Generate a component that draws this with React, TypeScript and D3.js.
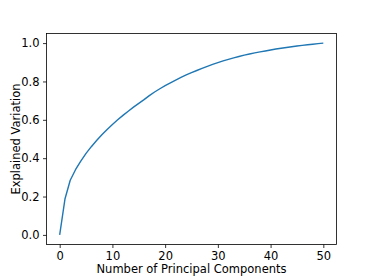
import * as d3 from "d3";
import React from "react";
import { useEffect, RefObject } from "react";

// cumulative explained variance, component 0..50
const components = d3.range(0, 51);
const explained = [
    0, 0.187, 0.285, 0.34, 0.385, 0.425, 0.46, 0.492, 0.522, 0.55,
    0.576, 0.6, 0.623, 0.645, 0.666, 0.686, 0.705, 0.726, 0.745, 0.762,
    0.778, 0.793, 0.807, 0.821, 0.834, 0.846, 0.857, 0.868, 0.879, 0.889,
    0.898, 0.907, 0.915, 0.923, 0.93, 0.937, 0.943, 0.949, 0.954, 0.959,
    0.964, 0.969, 0.973, 0.977, 0.981, 0.985, 0.988, 0.991, 0.994, 0.997,
    1.0,
];
const xTicks = [0, 10, 20, 30, 40, 50];
const yTicks = [0, 0.2, 0.4, 0.6, 0.8, 1.0];

function drawChart(svgRef: RefObject<SVGSVGElement>) {
    const width = 374;
    const height = 280;
    const margin = { top: 33.5, right: 37.5, bottom: 35.5, left: 46.5 };
    const font = "DejaVu Sans, sans-serif";
    const fontSize = 11.5;

    let svg = d3.select(svgRef.current)
        .attr("width", width)
        .attr("height", height)
    svg.selectAll("*").remove();

    let x = d3.scaleLinear()
        .domain([-2.5, 52.5])
        .range([margin.left, width - margin.right])

    let y = d3.scaleLinear()
        .domain([-0.05, 1.05])
        .range([height - margin.bottom, margin.top])

    let xAxis = d3.axisBottom(x).tickValues(xTicks).tickSize(3.5).tickPadding(3.5).tickFormat(d3.format("d"))
    let yAxis = d3.axisLeft(y).tickValues(yTicks).tickSize(3.5).tickPadding(3.5).tickFormat(d3.format(".1f"))

    let gx = svg.append("g")
        .attr("transform", `translate(0,${height - margin.bottom})`)
        .call(xAxis)
    let gy = svg.append("g")
        .attr("transform", `translate(${margin.left},0)`)
        .call(yAxis)

    for (const g of [gx, gy]) {
        g.select(".domain").remove();
        g.selectAll("line").attr("stroke", "#000").attr("stroke-width", 0.8);
        g.selectAll("text")
            .attr("fill", "#000")
            .style("font-family", font)
            .style("font-size", fontSize + "px");
    }

    // the curve
    let line = d3.line<number>()
        .x((d, i) => x(components[i]))
        .y(d => y(d))

    svg.append("path")
        .datum(explained)
        .attr("d", line)
        .attr("fill", "none")
        .attr("stroke", "#1f77b4")
        .attr("stroke-width", 1.4)
        .attr("stroke-linejoin", "round")

    // frame
    svg.append("rect")
        .attr("x", margin.left)
        .attr("y", margin.top)
        .attr("width", width - margin.left - margin.right)
        .attr("height", height - margin.top - margin.bottom)
        .attr("fill", "none")
        .attr("stroke", "#000")
        .attr("stroke-width", 0.8)

    svg.append("text")
        .attr("x", (margin.left + width - margin.right) / 2)
        .attr("y", 272.5)
        .attr("text-anchor", "middle")
        .style("font-family", font)
        .style("font-size", fontSize + "px")
        .text("Number of Principal Components")

    svg.append("text")
        .attr("transform", `translate(19.5,${(margin.top + height - margin.bottom) / 2}) rotate(-90)`)
        .attr("text-anchor", "middle")
        .style("font-family", font)
        .style("font-size", fontSize + "px")
        .text("Explained Variation")
}

export default function App() {
    const svg = React.useRef<SVGSVGElement>(null);
    useEffect(() => {
        drawChart(svg);
    });

    return (
        <div style={{ position: "absolute", left: 0, top: 0, background: "#fff" }}>
            <svg ref={svg} style={{ display: "block" }}></svg>
        </div>
    )
}
